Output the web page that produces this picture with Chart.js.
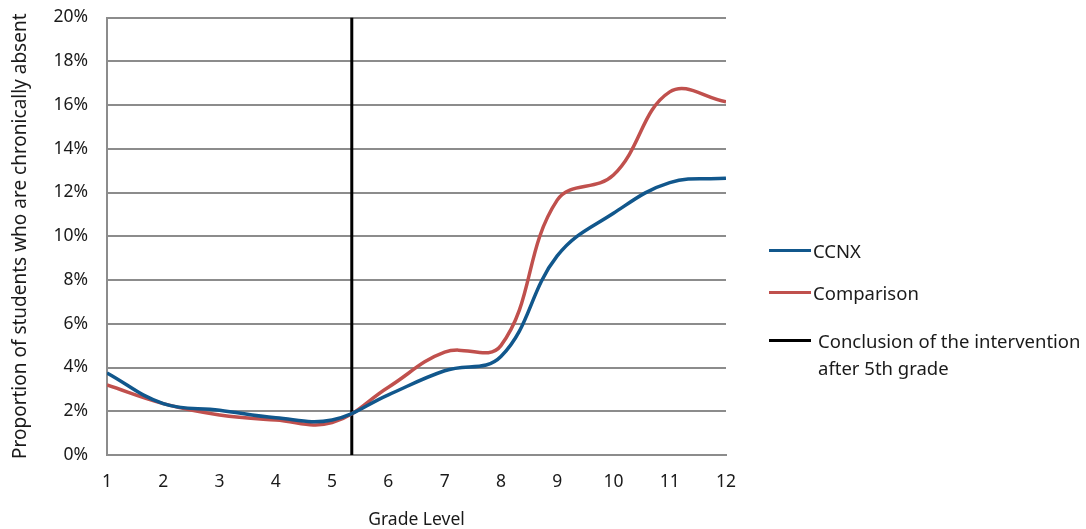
<!DOCTYPE html>
<html>
<head>
<meta charset="utf-8">
<script src="https://cdn.jsdelivr.net/npm/chart.js@4/dist/chart.umd.min.js"></script>
<style>
  body { margin: 0; background: #fff; font-family: "Noto Sans", sans-serif; overflow: hidden; }
  #wrap { position: relative; width: 1086px; height: 529px; overflow: hidden; }
  #absentChart { position: absolute; left: 0; top: -12px; }
  .legend-item { position: absolute; font-size: 18.5px; color: #1a1a1a; line-height: 27px; white-space: nowrap; }
  .legend-item .swatch { position: absolute; left: 0; width: 42px; height: 3px; }
</style>
</head>
<body>
<div id="wrap">
  <canvas id="absentChart" width="1086" height="543"></canvas>
  <div id="legend"></div>
</div>
<script>
// Grade levels on the x axis
const grades = [1, 2, 3, 4, 5, 6, 7, 8, 9, 10, 11, 12];

// Share of students chronically absent (%)
const ccnxValues = [3.75, 2.35, 2.05, 1.7, 1.6, 2.75, 3.85, 4.5, 9.1, 11.05, 12.45, 12.65];
const comparisonValues = [3.2, 2.35, 1.83, 1.6, 1.48, 3.1, 4.7, 5.0, 11.65, 12.8, 16.6, 16.15];

// Where the intervention ended (between grade 5 and 6)
const interventionGrade = 5.35;

const yTicks = [0, 2, 4, 6, 8, 10, 12, 14, 16, 18, 20];

const seriesNames = ['CCNX', 'Comparison', ['Conclusion of the intervention', 'after 5th grade']];
const seriesColors = ['#11578c', '#c0504d', '#000000'];

function toPoints(values) {
    return grades.map((g, i) => ({ x: g, y: values[i] }));
}

const ctx = document.getElementById('absentChart').getContext('2d');
Chart.defaults.font.family = '"Noto Sans", sans-serif';
Chart.defaults.color = '#1a1a1a';

new Chart(ctx, {
    type: 'line',
    data: {
        datasets: [
            {
                label: 'CCNX',
                data: toPoints(ccnxValues),
                borderColor: seriesColors[0],
                borderWidth: 3.5,
                pointRadius: 0,
                tension: 0.4
            },
            {
                label: 'Comparison',
                data: toPoints(comparisonValues),
                borderColor: seriesColors[1],
                borderWidth: 3.5,
                pointRadius: 0,
                tension: 0.4
            },
            {
                label: 'Conclusion of the intervention after 5th grade',
                data: [{ x: interventionGrade, y: 0 }, { x: interventionGrade, y: 20 }],
                borderColor: seriesColors[2],
                borderWidth: 3,
                pointRadius: 0,
                tension: 0
            }
        ]
    },
    options: {
        responsive: false,
        animation: false,
        layout: { padding: { left: 0, right: 360, top: -5, bottom: 0 } },
        plugins: {
            legend: { display: false },
            tooltip: { enabled: false }
        },
        scales: {
            x: {
                type: 'linear',
                min: 1,
                max: 12,
                afterBuildTicks: axis => { axis.ticks = grades.map(v => ({ value: v })); },
                afterFit: axis => { axis.height = 76; },
                grid: { display: false, drawTicks: false },
                border: { display: true, color: '#8c8c8c', width: 2 },
                ticks: { font: { size: 17.5 }, padding: 17, maxRotation: 0 },
                title: {
                    display: true,
                    text: 'Grade Level',
                    font: { size: 17.5 },
                    padding: { top: 0, bottom: 0 }
                }
            },
            y: {
                min: 0,
                max: 20,
                afterBuildTicks: axis => { axis.ticks = yTicks.map(v => ({ value: v })); },
                afterFit: axis => { axis.width = 107; },
                grid: { color: '#8c8c8c', lineWidth: 2, drawTicks: false },
                border: { display: true, color: '#8c8c8c', width: 2 },
                ticks: {
                    font: { size: 17.5 },
                    padding: 19,
                    callback: v => v + '%'
                },
                title: {
                    display: true,
                    text: 'Proportion of students who are chronically absent',
                    font: { size: 19 },
                    padding: { top: 9, bottom: 0 }
                }
            }
        }
    }
});

// Legend on the right, built from the same names and colours
const legendEl = document.getElementById('legend');
const legendTops = [237, 279, 327];
seriesNames.forEach((name, i) => {
    const item = document.createElement('div');
    item.className = 'legend-item';
    item.style.left = '769px';
    item.style.top = legendTops[i] + 'px';
    const swatch = document.createElement('span');
    swatch.className = 'swatch';
    swatch.style.background = seriesColors[i];
    swatch.style.top = '12px';
    item.appendChild(swatch);
    const text = document.createElement('div');
    text.style.marginLeft = (i === 2 ? 49 : 44) + 'px';
    text.innerHTML = Array.isArray(name) ? name.join('<br>') : name;
    item.appendChild(text);
    legendEl.appendChild(item);
});
</script>
</body>
</html>
